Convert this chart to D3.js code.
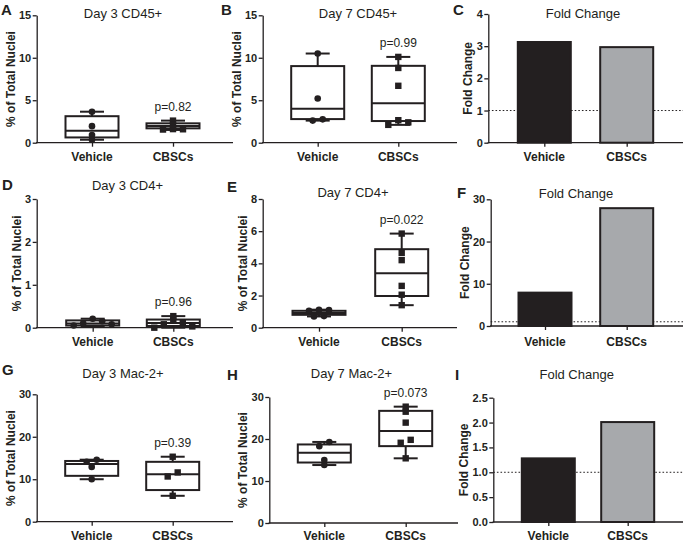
<!DOCTYPE html>
<html>
<head>
<meta charset="utf-8">
<script src="https://cdn.jsdelivr.net/npm/d3@7/dist/d3.min.js"></script>
<style>
  html, body { margin: 0; padding: 0; background: #fff; }
  svg { display: block; font-family: "Liberation Sans", Arial, sans-serif; }
</style>
</head>
<body>
<svg id="chart" width="683" height="546"></svg>
<script>
// ---------------- DATA ----------------
const categories = ["Vehicle", "CBSCs"];
const boxYLabel = "% of Total Nuclei";
const barYLabel = "Fold Change";

// Panel A: Day 3 CD45+
const cd45Day3Vehicle = [3.65, 1.95, 0.9, 0.35];
const cd45Day3CBSCs = [2.6, 2.1, 1.6, 1.58, 1.55];
const cd45Day3VehicleBox = [0.35, 0.62, 1.42, 3.12, 3.65]; // min, q1, median, q3, max
const cd45Day3CBSCsBox = [1.5, 1.69, 1.98, 2.28, 2.6];
const cd45Day3P = "p=0.82";
const cd45Day3Ticks = [0, 5, 10, 15];

// Panel B: Day 7 CD45+
const cd45Day7Vehicle = [10.5, 5.2, 2.75, 2.6];
const cd45Day7CBSCs = [10.1, 8.8, 6.7, 2.65, 2.4, 2.1];
const cd45Day7VehicleBox = [2.6, 2.78, 4.0, 9.02, 10.5];
const cd45Day7CBSCsBox = [2.1, 2.55, 4.65, 9.05, 10.1];
const cd45Day7P = "p=0.99";
const cd45Day7Ticks = [0, 5, 10, 15];

// Panel C: CD45+ fold change
const cd45Fold = [3.13, 2.97];
const cd45FoldTicks = [0, 1, 2, 3, 4];

// Panel D: Day 3 CD4+
const cd4Day3Vehicle = [0.21, 0.15, 0.1, 0.08, 0.05];
const cd4Day3CBSCs = [0.27, 0.17, 0.12, 0.08, 0.03, 0.0];
const cd4Day3VehicleBox = [0.04, 0.05, 0.1, 0.17, 0.21];
const cd4Day3CBSCsBox = [0.0, 0.04, 0.11, 0.19, 0.27];
const cd4Day3P = "p=0.96";
const cd4Day3Ticks = [0, 1, 2, 3];

// Panel E: Day 7 CD4+
const cd4Day7Vehicle = [1.12, 1.1, 1.05, 0.72, 0.7];
const cd4Day7CBSCs = [5.85, 4.65, 4.2, 2.6, 2.05, 1.4];
const cd4Day7VehicleBox = [0.7, 0.8, 0.92, 1.05, 1.12];
const cd4Day7CBSCsBox = [1.4, 1.97, 3.38, 4.88, 5.85];
const cd4Day7P = "p=0.022";
const cd4Day7Ticks = [0, 2, 4, 6, 8];

// Panel F: CD4+ fold change
const cd4Fold = [7.9, 27.9];
const cd4FoldTicks = [0, 10, 20, 30];

// Panel G: Day 3 Mac-2+
const macDay3Vehicle = [14.6, 14.1, 12.9, 10.0];
const macDay3CBSCs = [15.3, 11.6, 10.65, 6.1];
const macDay3VehicleBox = [10.0, 10.8, 13.6, 14.3, 14.6];
const macDay3CBSCsBox = [6.1, 7.45, 11.2, 14.1, 15.3];
const macDay3P = "p=0.39";
const macDay3Ticks = [0, 10, 20, 30];

// Panel H: Day 7 Mac-2+
const macDay7Vehicle = [19.3, 18.3, 15.0, 13.8];
const macDay7CBSCs = [27.7, 26.5, 23.9, 19.8, 19.1, 15.4];
const macDay7VehicleBox = [13.8, 14.4, 16.7, 18.7, 19.3];
const macDay7CBSCsBox = [15.4, 18.3, 21.9, 26.7, 27.7];
const macDay7P = "p=0.073";
const macDay7Ticks = [0, 10, 20, 30];

// Panel I: Mac-2+ fold change
const macFold = [1.28, 2.01];
const macFoldTicks = [0, 0.5, 1.0, 1.5, 2.0, 2.5];

const foldReference = 1;

// ---------------- LAYOUT ----------------
const INK = "#231f20";
const GREY = "#a7a9ac";
const svg = d3.select("#chart");

const panels = [
  { type: "box", letter: "A", lx: 1, ly: 15, title: "Day 3 CD45+", tx: 123, ty: 17.5,
    x0: 36.7, x1: 233, c: [92, 173], yt: 15.3, yb: 142.7, labY: 160.5,
    ticks: cd45Day3Ticks, fmt: d3.format("d"),
    pts: [cd45Day3Vehicle, cd45Day3CBSCs], box: [cd45Day3VehicleBox, cd45Day3CBSCsBox], p: cd45Day3P },
  { type: "box", letter: "B", lx: 221, ly: 15, title: "Day 7 CD45+", tx: 358, ty: 18,
    x0: 262.7, x1: 457, c: [317.7, 398.3], yt: 15.3, yb: 142.7, labY: 160.5,
    ticks: cd45Day7Ticks, fmt: d3.format("d"),
    pts: [cd45Day7Vehicle, cd45Day7CBSCs], box: [cd45Day7VehicleBox, cd45Day7CBSCsBox], p: cd45Day7P },
  { type: "bar", letter: "C", lx: 453, ly: 15, title: "Fold Change", tx: 583, ty: 17.5,
    x0: 488.3, x1: 683, c: [544.3, 626.7], yt: 14, yb: 142.7, labY: 160.5,
    ticks: cd45FoldTicks, fmt: d3.format("d"), vals: cd45Fold },
  { type: "box", letter: "D", lx: 2, ly: 190, title: "Day 3 CD4+", tx: 127.5, ty: 190,
    x0: 36.7, x1: 233, c: [92.7, 173.3], yt: 199, yb: 327.7, labY: 346,
    ticks: cd4Day3Ticks, fmt: d3.format("d"),
    pts: [cd4Day3Vehicle, cd4Day3CBSCs], box: [cd4Day3VehicleBox, cd4Day3CBSCsBox], p: cd4Day3P },
  { type: "box", letter: "E", lx: 227, ly: 192, title: "Day 7 CD4+", tx: 353, ty: 197,
    x0: 262.7, x1: 457, c: [319, 401.7], yt: 199, yb: 327.7, labY: 346,
    ticks: cd4Day7Ticks, fmt: d3.format("d"),
    pts: [cd4Day7Vehicle, cd4Day7CBSCs], box: [cd4Day7VehicleBox, cd4Day7CBSCsBox], p: cd4Day7P },
  { type: "bar", letter: "F", lx: 457, ly: 198, title: "Fold Change", tx: 576, ty: 198,
    x0: 490.7, x1: 683, c: [545, 626.7], yt: 199.3, yb: 326, labY: 346,
    ticks: cd4FoldTicks, fmt: d3.format("d"), vals: cd4Fold },
  { type: "box", letter: "G", lx: 2, ly: 375, title: "Day 3 Mac-2+", tx: 123, ty: 378,
    x0: 36.7, x1: 233, c: [91.7, 172.7], yt: 394.3, yb: 521.7, labY: 539.5,
    ticks: macDay3Ticks, fmt: d3.format("d"),
    pts: [macDay3Vehicle, macDay3CBSCs], box: [macDay3VehicleBox, macDay3CBSCsBox], p: macDay3P },
  { type: "box", letter: "H", lx: 227, ly: 380, title: "Day 7 Mac-2+", tx: 351.5, ty: 378,
    x0: 269.3, x1: 458, c: [324.3, 405.7], yt: 397, yb: 523, labY: 539.5,
    ticks: macDay7Ticks, fmt: d3.format("d"),
    pts: [macDay7Vehicle, macDay7CBSCs], box: [macDay7VehicleBox, macDay7CBSCsBox], p: macDay7P },
  { type: "bar", letter: "I", lx: 455, ly: 380, title: "Fold Change", tx: 576.7, ty: 379,
    x0: 493.3, x1: 683, c: [548.3, 627.7], yt: 397.7, yb: 522, labY: 539.5,
    ticks: macFoldTicks, fmt: d3.format(".1f"), vals: macFold }
];

// group close points horizontally (GraphPad-like scatter)
function spreadPoints(vals, y) {
  const items = vals.map(v => ({ v, dx: 0 })).sort((a, b) => b.v - a.v);
  const clusters = [];
  items.forEach((it, i) => {
    if (i > 0 && y(it.v) - y(items[i - 1].v) < 4.2) clusters[clusters.length - 1].push(it);
    else clusters.push([it]);
  });
  clusters.forEach(cl => {
    const k = cl.length;
    if (k === 1) return;
    const sp = Math.min(10, 38 / (k - 1));
    const order = [];
    if (k % 2 === 1) { order.push(0); for (let j = 1; order.length < k; j++) { order.push(j); order.push(-j); } }
    else { for (let j = 0.5; order.length < k; j++) { order.push(j); order.push(-j); } }
    cl.forEach((it, i) => { it.dx = order[i] * sp; });
  });
  return items;
}

panels.forEach(cfg => {
  const g = svg.append("g");
  const x = d3.scalePoint().domain(categories).range(cfg.c);
  const ymax = cfg.ticks[cfg.ticks.length - 1];
  const y = d3.scaleLinear().domain([0, ymax]).range([cfg.yb, cfg.yt]);

  // dotted reference line (fold panels)
  if (cfg.type === "bar") {
    g.append("line")
      .attr("x1", cfg.x0).attr("x2", cfg.x1)
      .attr("y1", y(foldReference)).attr("y2", y(foldReference))
      .attr("stroke", INK).attr("stroke-width", 1).attr("stroke-dasharray", "1.6,2");
  }

  // y axis
  const ya = g.append("g").attr("transform", `translate(${cfg.x0},0)`)
    .call(d3.axisLeft(y).tickValues(cfg.ticks).tickFormat(cfg.fmt).tickSize(4).tickSizeOuter(0).tickPadding(1.5));
  ya.selectAll("path,line").attr("stroke", INK).attr("stroke-width", 1.3);
  ya.selectAll("text").attr("fill", INK).style("font-size", "11px").style("font-weight", "bold")
    .style("font-family", '"Liberation Sans", Arial, sans-serif');

  // x axis
  const xa = g.append("g").attr("transform", `translate(0,${cfg.yb})`)
    .call(d3.axisBottom(x).tickSize(4).tickSizeOuter(0).tickFormat(""));
  xa.select(".domain").remove();
  xa.selectAll("line").attr("stroke", INK).attr("stroke-width", 1.3);
  g.append("line").attr("x1", cfg.x0 - 0.65).attr("x2", cfg.x1)
    .attr("y1", cfg.yb).attr("y2", cfg.yb).attr("stroke", INK).attr("stroke-width", 1.3);

  // category labels
  g.selectAll("text.cat").data(categories).join("text").attr("class", "cat")
    .attr("x", d => x(d)).attr("y", cfg.labY).attr("text-anchor", "middle")
    .attr("fill", INK).style("font-size", "12px").style("font-weight", "bold").text(d => d);

  // y axis title
  const bb = ya.node().getBBox();
  const titleX = cfg.x0 + bb.x - 8.5;
  g.append("text")
    .attr("transform", `translate(${titleX},${(cfg.yt + cfg.yb) / 2}) rotate(-90)`)
    .attr("text-anchor", "middle").attr("dy", "0.35em")
    .attr("fill", INK).style("font-size", "12px").style("font-weight", "bold")
    .text(cfg.type === "box" ? boxYLabel : barYLabel);

  // title
  g.append("text").attr("x", cfg.tx).attr("y", cfg.ty).attr("text-anchor", "middle")
    .attr("fill", INK).style("font-size", "13px").text(cfg.title);

  // letter
  g.append("text").attr("x", cfg.lx).attr("y", cfg.ly)
    .attr("fill", INK).style("font-size", "15px").style("font-weight", "bold").text(cfg.letter);

  if (cfg.type === "bar") {
    const bw = 53;
    g.selectAll("rect.bar").data(cfg.vals).join("rect").attr("class", "bar")
      .attr("x", (d, i) => x(categories[i]) - bw / 2)
      .attr("y", d => y(d))
      .attr("width", bw).attr("height", d => y(0) - y(d))
      .attr("fill", (d, i) => i === 0 ? INK : GREY)
      .attr("stroke", INK).attr("stroke-width", 2);
  } else {
    const bw = 53, cap = 24;
    cfg.box.forEach((b, i) => {
      const cx = x(categories[i]);
      const [mn, q1, md, q3, mx] = b;
      const bg = g.append("g");
      bg.append("line").attr("x1", cx).attr("x2", cx).attr("y1", y(mx)).attr("y2", y(q3))
        .attr("stroke", INK).attr("stroke-width", 2);
      bg.append("line").attr("x1", cx).attr("x2", cx).attr("y1", y(q1)).attr("y2", y(mn))
        .attr("stroke", INK).attr("stroke-width", 2);
      [mx, mn].forEach(v => bg.append("line").attr("x1", cx - cap / 2).attr("x2", cx + cap / 2)
        .attr("y1", y(v)).attr("y2", y(v)).attr("stroke", INK).attr("stroke-width", 2));
      bg.append("rect").attr("x", cx - bw / 2).attr("y", y(q3)).attr("width", bw)
        .attr("height", Math.max(0.5, y(q1) - y(q3)))
        .attr("fill", "#fff").attr("fill-opacity", 0).attr("stroke", INK).attr("stroke-width", 2);
      bg.append("line").attr("x1", cx - bw / 2).attr("x2", cx + bw / 2)
        .attr("y1", y(md)).attr("y2", y(md)).attr("stroke", INK).attr("stroke-width", 2);

      const pts = spreadPoints(cfg.pts[i], y);
      if (i === 0) {
        bg.selectAll("circle").data(pts).join("circle")
          .attr("cx", d => cx + d.dx).attr("cy", d => y(d.v)).attr("r", 3.3).attr("fill", INK);
      } else {
        const s = 6.4;
        bg.selectAll("rect.pt").data(pts).join("rect").attr("class", "pt")
          .attr("x", d => cx + d.dx - s / 2).attr("y", d => y(d.v) - s / 2)
          .attr("width", s).attr("height", s).attr("fill", INK);
      }
    });
    // p value label above CBSCs
    const pmax = cfg.box[1][4];
    g.append("text").attr("x", x(categories[1])).attr("y", y(pmax) - 10)
      .attr("text-anchor", "middle").attr("fill", INK).style("font-size", "12px").text(cfg.p);
  }
});
</script>
</body>
</html>
